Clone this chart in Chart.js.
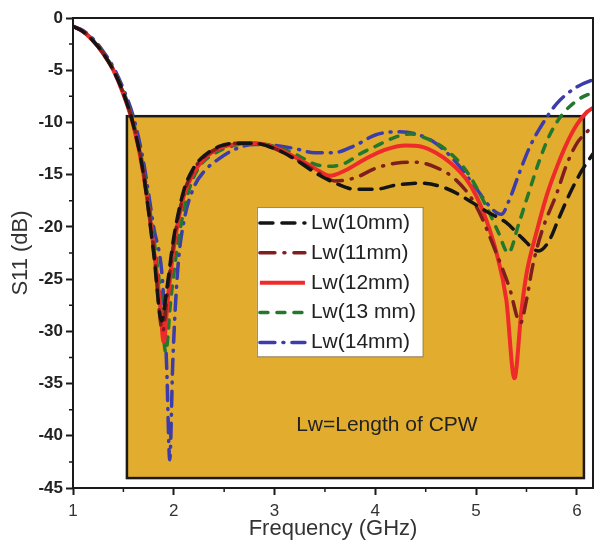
<!DOCTYPE html>
<html>
<head>
<meta charset="utf-8">
<script src="https://cdn.jsdelivr.net/npm/chart.js@4.4.1/dist/chart.umd.min.js"></script>
<style>
  html, body { margin: 0; padding: 0; background: #fff; }
  canvas { display: block; }
</style>
</head>
<body>
<canvas id="s11Chart" width="595" height="546"></canvas>
<script>
// Lw = 10 mm
const freqLw10 = [1.0, 1.1, 1.2, 1.3, 1.4, 1.5, 1.6, 1.7, 1.8, 1.88, 1.93, 2.0, 2.1, 2.2, 2.3, 2.45, 2.6, 2.8, 3.0, 3.2, 3.4, 3.6, 3.8, 4.0, 4.2, 4.45, 4.7, 4.9, 5.1, 5.3, 5.45, 5.62, 5.72, 5.82, 5.93, 6.05, 6.16];
const s11Lw10 = [-0.8, -1.3, -2.2, -3.4, -5.0, -7.2, -10.3, -15.0, -22.5, -29.0, -26.0, -21.0, -16.5, -14.3, -13.2, -12.3, -12.0, -12.0, -12.5, -13.5, -14.8, -15.8, -16.4, -16.4, -16.0, -15.8, -16.3, -17.3, -18.5, -19.6, -21.0, -22.3, -21.4, -19.2, -16.8, -14.6, -13.0];

// Lw = 11 mm
const freqLw11 = [1.0, 1.1, 1.2, 1.3, 1.4, 1.5, 1.6, 1.7, 1.8, 1.89, 1.94, 2.0, 2.1, 2.2, 2.3, 2.45, 2.6, 2.8, 3.0, 3.2, 3.4, 3.6, 3.8, 4.0, 4.2, 4.4, 4.6, 4.8, 5.0, 5.2, 5.33, 5.44, 5.5, 5.56, 5.65, 5.8, 5.9, 6.0, 6.1, 6.16];
const s11Lw11 = [-0.8, -1.3, -2.2, -3.4, -5.0, -7.2, -10.2, -14.8, -22.0, -30.0, -26.0, -21.5, -16.8, -14.5, -13.3, -12.4, -12.0, -12.0, -12.5, -13.5, -14.6, -15.6, -15.3, -14.4, -13.9, -13.8, -14.3, -15.5, -18.0, -22.5, -25.8, -29.2, -27.0, -23.8, -20.5, -16.8, -14.0, -12.0, -10.9, -10.3];

// Lw = 12 mm
const freqLw12 = [1.0, 1.1, 1.2, 1.3, 1.4, 1.5, 1.6, 1.7, 1.8, 1.86, 1.9, 1.94, 2.0, 2.1, 2.2, 2.3, 2.45, 2.6, 2.8, 3.0, 3.2, 3.4, 3.55, 3.7, 3.9, 4.1, 4.3, 4.45, 4.6, 4.75, 4.9, 5.0, 5.1, 5.2, 5.3, 5.38, 5.45, 5.5, 5.6, 5.7, 5.8, 5.9, 6.0, 6.1, 6.16];
const s11Lw12 = [-0.8, -1.3, -2.2, -3.4, -5.0, -7.3, -10.3, -15.0, -22.0, -27.0, -31.0, -27.0, -22.0, -17.0, -14.8, -13.5, -12.5, -12.1, -12.0, -12.4, -13.3, -14.4, -15.1, -14.6, -13.5, -12.6, -12.2, -12.3, -12.9, -13.9, -15.4, -17.0, -19.3, -22.4, -27.0, -34.5, -28.0, -24.5, -20.5, -17.0, -14.3, -12.0, -10.2, -9.0, -8.6];

// Lw = 13 mm
const freqLw13 = [1.0, 1.1, 1.2, 1.3, 1.4, 1.5, 1.6, 1.7, 1.8, 1.87, 1.92, 1.97, 2.05, 2.15, 2.25, 2.4, 2.6, 2.8, 3.0, 3.2, 3.4, 3.55, 3.7, 3.85, 4.0, 4.2, 4.35, 4.5, 4.7, 4.9, 5.1, 5.22, 5.32, 5.42, 5.52, 5.63, 5.73, 5.85, 6.0, 6.16];
const s11Lw13 = [-0.8, -1.3, -2.1, -3.3, -4.9, -7.0, -10.0, -14.5, -21.0, -26.5, -32.0, -27.0, -21.0, -16.5, -14.3, -13.0, -12.2, -12.0, -12.3, -13.0, -14.0, -14.2, -13.9, -13.0, -12.3, -11.4, -11.1, -11.5, -12.6, -14.6, -18.0, -20.5, -22.5, -19.8, -16.8, -13.6, -11.2, -9.3, -7.9, -7.1];

// Lw = 14 mm
const freqLw14 = [1.0, 1.1, 1.2, 1.3, 1.4, 1.5, 1.6, 1.7, 1.8, 1.89, 1.93, 1.96, 1.99, 2.04, 2.1, 2.2, 2.3, 2.43, 2.6, 2.8, 3.0, 3.2, 3.4, 3.58, 3.8, 4.0, 4.2, 4.4, 4.6, 4.8, 5.0, 5.15, 5.25, 5.33, 5.43, 5.53, 5.63, 5.8, 6.0, 6.16];
const s11Lw14 = [-0.8, -1.2, -2.0, -3.2, -4.7, -6.8, -9.5, -13.8, -20.0, -25.4, -33.5, -42.3, -33.0, -24.0, -19.5, -16.2, -14.7, -13.6, -12.6, -12.1, -12.2, -12.5, -12.9, -12.9, -12.2, -11.2, -10.9, -11.1, -12.0, -13.8, -16.3, -18.2, -18.8, -17.4, -14.8, -12.4, -10.6, -8.2, -6.6, -5.9];

const seriesLabels = ['Lw(10mm)', 'Lw(11mm)', 'Lw(12mm)', 'Lw(13 mm)', 'Lw(14mm)'];
const xTicks = [1, 2, 3, 4, 5, 6];
const yTicks = [0, -5, -10, -15, -20, -25, -30, -35, -40, -45];

const FONT = "'Liberation Sans', Arial, sans-serif";

function toPoints(xs, ys) {
    return xs.map((x, i) => ({ x: x, y: ys[i] }));
}

const styles = [
    { color: 'rgb(20, 20, 20)',   dash: [13, 9],        width: 3.5 },
    { color: 'rgb(128, 30, 30)',  dash: [15, 9, 1, 9],  width: 3.5 },
    { color: 'rgb(238, 42, 42)',  dash: [],             width: 4 },
    { color: 'rgb(35, 120, 45)',  dash: [8, 9],         width: 3.5 },
    { color: 'rgb(60, 60, 170)',  dash: [15, 8, 1, 8],  width: 3.5 }
];

const rawSeries = [
    toPoints(freqLw10, s11Lw10),
    toPoints(freqLw11, s11Lw11),
    toPoints(freqLw12, s11Lw12),
    toPoints(freqLw13, s11Lw13),
    toPoints(freqLw14, s11Lw14)
];

const datasets = rawSeries.map((pts, i) => ({
    label: seriesLabels[i],
    data: pts,
    borderColor: styles[i].color,
    borderWidth: styles[i].width,
    borderDash: styles[i].dash,
    borderCapStyle: styles[i].dash.length ? 'round' : 'butt',
    pointRadius: 0,
    cubicInterpolationMode: 'monotone',
    fill: false
}));

// gold inset box, legend and note, drawn in data units
const insetBox = { x0: 1.535, x1: 6.07, y0: -9.4, y1: -44.05 };
const legendBox = { x0: 2.825, x1: 4.47, y0: -18.1, y1: -32.4 };

const decorPlugin = {
    id: 'decor',
    beforeDatasetsDraw(chart) {
        const { ctx, scales: { x, y } } = chart;
        const l = x.getPixelForValue(insetBox.x0), r = x.getPixelForValue(insetBox.x1);
        const t = y.getPixelForValue(insetBox.y0), b = y.getPixelForValue(insetBox.y1);
        ctx.save();
        ctx.fillStyle = 'rgb(226, 173, 46)';
        ctx.fillRect(l, t, r - l, b - t);
        ctx.lineWidth = 2.5;
        ctx.strokeStyle = '#1a1a1a';
        ctx.strokeRect(l, t, r - l, b - t);

        ctx.fillStyle = '#222';
        ctx.font = '21px ' + FONT;
        ctx.textAlign = 'center';
        ctx.textBaseline = 'middle';
        ctx.fillText('Lw=Length of CPW', x.getPixelForValue(4.115), y.getPixelForValue(-39.0));
        ctx.restore();
    },
    afterDatasetsDraw(chart) {
        const { ctx, scales: { x, y } } = chart;
        const l = x.getPixelForValue(legendBox.x0), r = x.getPixelForValue(legendBox.x1);
        const t = y.getPixelForValue(legendBox.y0), b = y.getPixelForValue(legendBox.y1);
        ctx.save();
        ctx.fillStyle = '#fff';
        ctx.fillRect(l, t, r - l, b - t);
        ctx.lineWidth = 1;
        ctx.strokeStyle = '#888';
        ctx.strokeRect(l + 0.5, t + 0.5, r - l, b - t);

        const rowH = (b - t) / datasets.length;
        ctx.font = '21px ' + FONT;
        ctx.textAlign = 'left';
        ctx.textBaseline = 'middle';
        datasets.forEach((ds, i) => {
            const cy = t + rowH * (i + 0.5) + 1;
            ctx.beginPath();
            ctx.strokeStyle = ds.borderColor;
            ctx.lineWidth = ds.borderWidth;
            ctx.lineCap = ds.borderCapStyle;
            ctx.setLineDash(ds.borderDash);
            ctx.moveTo(l + 3, cy);
            ctx.lineTo(l + 48, cy);
            ctx.stroke();
            ctx.setLineDash([]);
            ctx.fillStyle = '#222';
            ctx.fillText(ds.label, l + 54, cy);
        });
        ctx.restore();
    },
    afterDraw(chart) {
        const { ctx, chartArea: a, scales: { x, y } } = chart;
        ctx.save();
        ctx.strokeStyle = '#1a1a1a';
        ctx.lineWidth = 2;
        ctx.strokeRect(a.left, a.top, a.right - a.left, a.bottom - a.top);

        // minor ticks
        ctx.lineWidth = 1.5;
        ctx.beginPath();
        for (let v = 1.5; v < 6.16; v += 1) {
            const px = x.getPixelForValue(v);
            ctx.moveTo(px, a.bottom);
            ctx.lineTo(px, a.bottom + 4);
        }
        for (let v = -2.5; v > -45; v -= 5) {
            const py = y.getPixelForValue(v);
            ctx.moveTo(a.left, py);
            ctx.lineTo(a.left - 4, py);
        }
        ctx.stroke();
        ctx.restore();
    }
};

new Chart(document.getElementById('s11Chart'), {
    type: 'line',
    data: { datasets: datasets },
    options: {
        responsive: false,
        animation: false,
        layout: { padding: { top: 18, right: 2, left: 0, bottom: 0 } },
        plugins: {
            legend: { display: false },
            tooltip: { enabled: false }
        },
        scales: {
            x: {
                type: 'linear',
                min: 1,
                max: 6.16,
                afterBuildTicks: scale => { scale.ticks = xTicks.map(v => ({ value: v })); },
                afterFit: scale => { scale.height = 58; },
                grid: { drawOnChartArea: false, tickLength: 7, tickWidth: 2, tickColor: '#1a1a1a' },
                border: { display: false },
                ticks: { color: '#333', font: { family: FONT, size: 17 }, padding: 6, maxRotation: 0 },
                title: { display: true, text: 'Frequency (GHz)', color: '#333', font: { family: FONT, size: 22 }, padding: { top: 0, bottom: 4 } }
            },
            y: {
                type: 'linear',
                min: -45,
                max: 0,
                afterBuildTicks: scale => { scale.ticks = yTicks.map(v => ({ value: v })); },
                afterFit: scale => { scale.width = 73; },
                grid: { drawOnChartArea: false, tickLength: 7, tickWidth: 2, tickColor: '#1a1a1a' },
                border: { display: false },
                ticks: { color: '#222', font: { family: FONT, size: 17, weight: 'bold' }, padding: 3 },
                title: { display: true, text: 'S11 (dB)', color: '#333', font: { family: FONT, size: 22 }, padding: { top: 8, bottom: 0 } }
            }
        }
    },
    plugins: [decorPlugin]
});
</script>
</body>
</html>
